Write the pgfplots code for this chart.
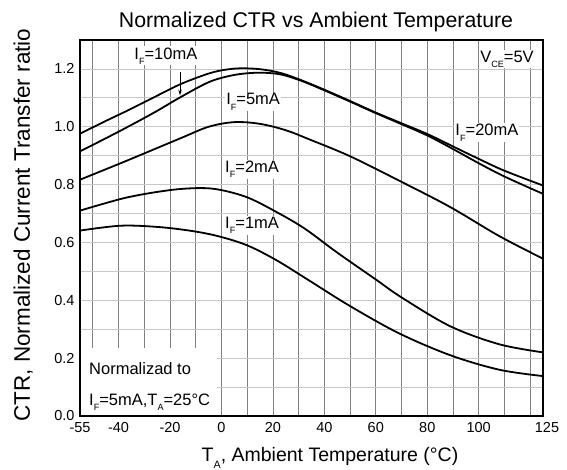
\documentclass[border=0pt]{standalone}
\usepackage{fontspec}
\setmainfont{Liberation Sans}
\usepackage{graphicx}
\usepackage{pgfplots}
\pgfplotsset{compat=1.18}
\usetikzlibrary{arrows.meta}

% small, low subscript as in the datasheet
\newcommand\sbs[1]{\raisebox{-0.32em}{\scalebox{0.55}{#1}}}

\tikzset{
  crv/.style={black, line width=1.8pt, smooth, tension=0.55, mark=none},
  lbl/.style={font=\fontsize{16.5}{16.5}\selectfont, fill=white, inner sep=1pt},
  txt/.style={font=\fontsize{16.5}{16.5}\selectfont, inner sep=0pt, anchor=base west},
}

\begin{document}
\begin{tikzpicture}
\begin{axis}[
  width=463pt, height=376pt, scale only axis,
  xmin=-55, xmax=125, ymin=0, ymax=1.3,
  xtick={-55,-40,-20,0,20,40,60,80,100,125},
  xticklabels={-55,-40,-20,0,20,40,60,80,100,\raisebox{4pt}{\hspace{8pt}125}},
  minor xtick={-50,-40,...,120},
  ytick={0,0.2,0.4,0.6,0.8,1.0,1.2},
  minor ytick={0.1,0.3,0.5,0.7,0.9,1.1},
  xmajorgrids=false, xminorgrids=true,
  ymajorgrids=true, yminorgrids=true,
  major grid style={}, minor grid style={},
  every axis x grid/.style={black!50, line width=0.8pt},
  every axis y grid/.style={black!22, line width=0.8pt},
  major tick length=0pt, minor tick length=0pt,
  axis line style={line width=1.7pt},
  tick label style={font=\fontsize{14.5}{14.5}\selectfont},
  /pgf/number format/assume math mode=true,
  yticklabel style={xshift=-2pt, /pgf/number format/fixed, /pgf/number format/fixed zerofill, /pgf/number format/precision=1},
  xticklabel style={yshift=-3pt},
]

% labels first, so that their white boxes hide the grid but not the curves
\node[lbl] at (axis cs:-21.6,1.245) {I\sbs{F}=10mA};
\node[lbl] at (axis cs:12.3,1.086) {I\sbs{F}=5mA};
\node[lbl] at (axis cs:11.9,0.852) {I\sbs{F}=2mA};
\node[lbl] at (axis cs:11.9,0.659) {I\sbs{F}=1mA};
\node[lbl] at (axis cs:103.2,0.979) {I\sbs{F}=20mA};
\node[lbl] at (axis cs:111,1.234) {V\sbs{CE}=5V};
\node[fill=white, anchor=south west, minimum width=136pt, minimum height=67pt, inner sep=0pt]
  at ([shift={(1pt,1pt)}]axis cs:-55,0) {};
\node[txt] at (axis cs:-51.5,0.145) {Normalizad to};
\node[txt] at (axis cs:-51.5,0.038) {I\sbs{F}=5mA,T\sbs{A}=25°C};

% upper curve at left
\addplot[crv] coordinates {
  (-55,0.976) (-45,1.020) (-37,1.054) (-26,1.103) (-16,1.147) (-6,1.181)
  (0,1.195) (7,1.202) (15,1.199) (23,1.186) (31,1.161) (40,1.128)
  (50,1.089) (60,1.049) (70,1.012) (80,0.975) (90,0.932) (100,0.889)
  (110,0.848) (125,0.797)
};
% second curve at left
\addplot[crv] coordinates {
  (-55,0.915) (-45,0.960) (-37,0.997) (-26,1.050) (-16,1.102) (-6,1.150)
  (0,1.169) (7,1.182) (15,1.187) (23,1.181) (31,1.159) (40,1.126)
  (50,1.087) (60,1.047) (70,1.009) (80,0.970) (90,0.923) (100,0.874)
  (110,0.828) (125,0.768)
};
% I_F = 5 mA
\addplot[crv] coordinates {
  (-55,0.817) (-37,0.882) (-16,0.960) (-5,1.000) (5,1.016) (15,1.010)
  (25,0.988) (34,0.957) (50,0.898) (69,0.814) (89,0.722) (108,0.622)
  (125,0.544)
};
% I_F = 2 mA
\addplot[crv] coordinates {
  (-55,0.710) (-37,0.755) (-20,0.781) (-8,0.788) (0,0.781) (10,0.756)
  (20,0.712) (32,0.650) (45,0.565) (60,0.472) (70,0.410) (89,0.310)
  (108,0.248) (125,0.220)
};
% I_F = 1 mA
\addplot[crv] coordinates {
  (-55,0.641) (-39,0.658) (-24,0.653) (-11,0.639) (-1,0.621) (10,0.590)
  (21.5,0.538) (34,0.469) (50,0.380) (69,0.286) (89,0.210) (108,0.160)
  (125,0.138)
};

\draw[-{Stealth[length=6pt,width=3.5pt]}, line width=0.8pt]
  (axis cs:-16.1,1.19) -- (axis cs:-16.1,1.108);

\coordinate (bl) at (rel axis cs:0,0);
\coordinate (tr) at (rel axis cs:1,1);
\end{axis}

\node[font=\fontsize{21.3}{21.3}\selectfont, anchor=base] at ([shift={(236pt,388pt)}]bl)
  {Normalized CTR vs Ambient Temperature};
\node[font=\fontsize{19.5}{19.5}\selectfont, anchor=base] at ([shift={(250pt,-46pt)}]bl)
  {T\sbs{A}, Ambient Temperature (°C)};
\node[font=\fontsize{22.5}{22.5}\selectfont, anchor=base, rotate=90] at ([shift={(-50pt,191pt)}]bl)
  {CTR, Normalized Current Transfer ratio};

\pgfresetboundingbox
\path ([shift={(-80pt,-54pt)}]bl) rectangle ([shift={(24pt,40pt)}]tr);
\end{tikzpicture}
\end{document}
